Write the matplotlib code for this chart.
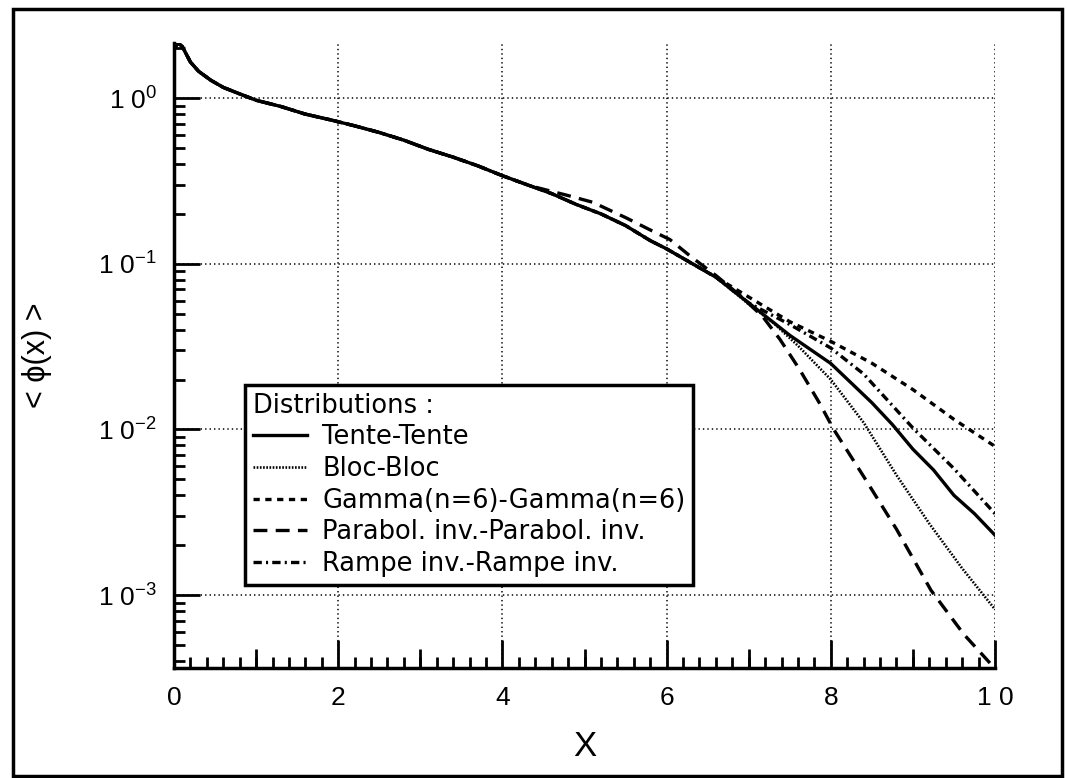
import numpy as np
import matplotlib
matplotlib.use("Agg")
import matplotlib.pyplot as plt
from matplotlib.patches import Rectangle
from matplotlib.ticker import FixedLocator, LogLocator, NullFormatter, FixedFormatter

plt.rcParams['font.family'] = ['Liberation Sans', 'DejaVu Sans']
plt.rcParams['mathtext.fontset'] = 'custom'
plt.rcParams['mathtext.rm'] = 'Liberation Sans'
plt.rcParams['mathtext.default'] = 'regular'
plt.rcParams['lines.scale_dashes'] = False

# common part, all five curves overlap here
x_common = [0.0, 0.05, 0.1, 0.2, 0.3, 0.45, 0.6, 0.8, 1.0, 1.3, 1.6, 1.9, 2.2,
            2.5, 2.8, 3.1, 3.4, 3.7, 4.0, 4.3]
y_common = [2.0, 2.15, 2.05, 1.65, 1.45, 1.28, 1.16, 1.06, 0.97, 0.89, 0.80,
            0.74, 0.68, 0.62, 0.557, 0.49, 0.44, 0.39, 0.34, 0.30]

# main body after x=4.3 (shared by Tente, Bloc, Gamma, Rampe up to ~6.6)
x_mid = [4.6, 4.9, 5.2, 5.5, 5.8, 6.0, 6.3, 6.6]
y_mid = [0.265, 0.228, 0.20, 0.17, 0.138, 0.123, 0.101, 0.083]

x_tente = [7.0, 7.5, 8.0, 8.5, 8.75, 9.0, 9.25, 9.5, 9.75, 10.0]
y_tente = [0.058, 0.037, 0.025, 0.0145, 0.0107, 0.0076, 0.0057, 0.0040, 0.0031, 0.0023]

x_bloc = [7.0, 7.3, 7.6, 8.0, 8.4, 8.8, 9.2, 9.6, 10.0]
y_bloc = [0.057, 0.044, 0.032, 0.020, 0.011, 0.0053, 0.0027, 0.00145, 0.00082]

x_gamma = [7.0, 7.5, 8.0, 8.5, 9.0, 9.5, 10.0]
y_gamma = [0.063, 0.0447, 0.034, 0.0251, 0.0174, 0.0115, 0.0079]

x_parab = [4.4, 4.8, 5.1, 5.5, 5.8, 6.04, 6.3, 6.6, 6.9, 7.17, 7.38, 7.62, 7.87,
           8.03, 8.4, 8.8, 9.22, 9.62, 10.0]
y_parab = [0.29, 0.258, 0.235, 0.19, 0.16, 0.14, 0.11, 0.085, 0.064, 0.048, 0.035,
           0.023, 0.0142, 0.0101, 0.0052, 0.0025, 0.00107, 0.00058, 0.00036]

x_rampe = [7.0, 7.5, 8.0, 8.4, 9.0, 9.5, 10.0]
y_rampe = [0.058, 0.043, 0.031, 0.0216, 0.0102, 0.0058, 0.0031]

labels = ["Tente-Tente", "Bloc-Bloc", "Gamma(n=6)-Gamma(n=6)",
          "Parabol. inv.-Parabol. inv.", "Rampe inv.-Rampe inv."]

fig = plt.figure(figsize=(10.67, 7.78), dpi=100)
ax = fig.add_axes([174 / 1067, 1 - 668 / 778, 821 / 1067, 625 / 778])

def full(xt, yt, with_mid=True):
    xs = list(x_common) + (list(x_mid) if with_mid else []) + list(xt)
    ys = list(y_common) + (list(y_mid) if with_mid else []) + list(yt)
    return xs, ys

xs, ys = full(x_tente, y_tente)
ax.plot(xs, ys, color='black', lw=2.4, ls='-', label=labels[0])
xs, ys = full(x_bloc, y_bloc)
ax.plot(xs, ys, color='black', lw=1.9, ls=(0, (1.2, 1.1)), label=labels[1])
xs, ys = full(x_gamma, y_gamma)
ax.plot(xs, ys, color='black', lw=2.4, ls=(0, (4.5, 4)), label=labels[2])
xs, ys = full(x_parab, y_parab, with_mid=False)
ax.plot(xs, ys, color='black', lw=2.4, ls=(0, (10, 6)), label=labels[3])
xs, ys = full(x_rampe, y_rampe)
ax.plot(xs, ys, color='black', lw=2.4, ls=(0, (6, 3, 1.5, 3)), label=labels[4])

ax.set_yscale('log')
ax.set_xlim(0, 10)
ax.set_ylim(3.63e-4, 2.15)

# x ticks
ax.xaxis.set_major_locator(FixedLocator([0, 2, 4, 6, 8, 10]))
ax.xaxis.set_major_formatter(FixedFormatter(['0', '2', '4', '6', '8', '1 0']))
ax.xaxis.set_minor_locator(FixedLocator(np.arange(0, 10.01, 0.2)))
ax.tick_params(axis='x', which='major', direction='in', length=20, width=2,
               labelsize=19, pad=13)
ax.tick_params(axis='x', which='minor', direction='in', length=8, width=2)
sec = ax.secondary_xaxis('bottom')
sec.set_xticks([1, 3, 5, 7, 9])
sec.set_xticklabels([])
sec.tick_params(direction='in', length=14, width=2)
sec.spines['bottom'].set_visible(False)

# y ticks
ax.yaxis.set_major_locator(FixedLocator([1, 0.1, 0.01, 0.001]))
ax.yaxis.set_major_formatter(FixedFormatter(['1 0$^{0}$', '1 0$^{-1}$',
                                             '1 0$^{-2}$', '1 0$^{-3}$']))
ax.yaxis.set_minor_locator(LogLocator(base=10, subs=np.arange(2, 10)))
ax.yaxis.set_minor_formatter(NullFormatter())
ax.tick_params(axis='y', which='major', direction='in', length=19, width=2,
               labelsize=19, pad=12)
ax.tick_params(axis='y', which='minor', direction='in', length=8, width=2)

ax.grid(True, which='major', color='black', lw=1.1, ls=(0, (1, 2.2)))

ax.spines['top'].set_visible(False)
ax.spines['right'].set_visible(False)
ax.spines['left'].set_linewidth(2.5)
ax.spines['bottom'].set_linewidth(2.5)

ax.set_xlabel('X', fontsize=25)
ax.xaxis.set_label_coords(0.5, -0.1)
ax.set_ylabel('< ϕ(x) >', fontsize=22)
ax.yaxis.set_label_coords(-0.148, 0.5)

leg = ax.legend(loc='upper left', bbox_to_anchor=(0.0865, 0.453), borderaxespad=0,
                prop={'family': 'DejaVu Sans', 'size': 18.5},
                title='Distributions :',
                title_fontproperties={'family': 'DejaVu Sans', 'size': 18.5},
                alignment='left', fancybox=False, framealpha=1, edgecolor='black',
                handlelength=2.1, labelspacing=0.22, borderpad=0.3,
                handletextpad=0.6)
leg.get_frame().set_linewidth(2.5)

fig.add_artist(Rectangle((13 / 1067, 2 / 778), 1049 / 1067, 767 / 778,
                         transform=fig.transFigure, fill=False, lw=2.5,
                         edgecolor='black'))

fig.savefig('out.png', dpi=100)
